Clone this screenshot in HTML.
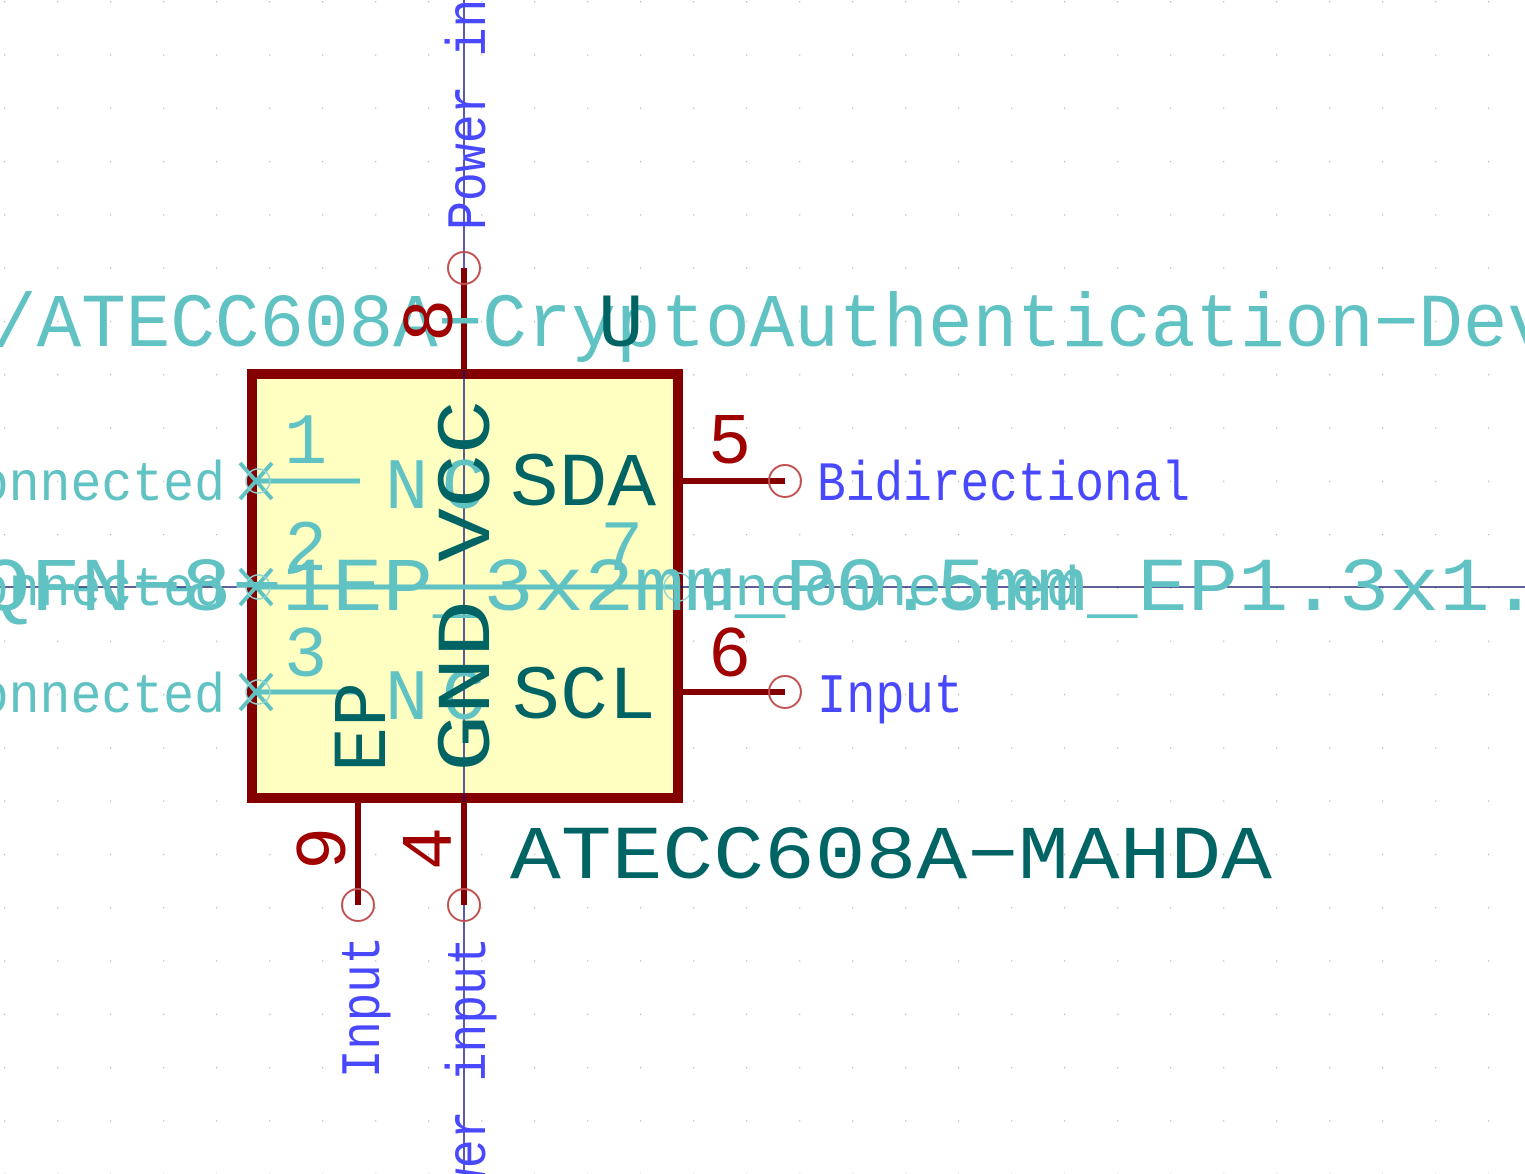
<!DOCTYPE html>
<html><head><meta charset="utf-8"><style>
html,body{margin:0;padding:0;background:#fff;width:1525px;height:1174px;overflow:hidden;}
svg{display:block;overflow:hidden;}
text{font-family:"Liberation Mono",monospace;}
</style></head><body>
<svg width="1525" height="1174" viewBox="0 0 1525 1174" overflow="hidden" xmlns="http://www.w3.org/2000/svg">
<defs>
<pattern id="g" x="-6" y="1" width="53" height="53.3" patternUnits="userSpaceOnUse">
<rect x="10" y="0" width="1.3" height="1.3" fill="#bbb"/>
</pattern>
<clipPath id="c"><rect width="1525" height="1174"/></clipPath>
</defs>
<g clip-path="url(#c)">
<rect width="1525" height="1174" fill="#fff"/>
<rect width="1525" height="1174" fill="url(#g)"/>
<rect x="252" y="374" width="426" height="424" fill="#ffffc2" stroke="#840000" stroke-width="10"/>
<line x1="464" y1="0" x2="464" y2="1174" stroke="#00008a" stroke-width="1.3"/>
<line x1="0" y1="587" x2="1525" y2="587" stroke="#00005a" stroke-width="1.3"/>
<g stroke="#840000" stroke-width="6">
<line x1="464" y1="268" x2="464" y2="370"/>
<line x1="682" y1="481" x2="785" y2="481"/>
<line x1="682" y1="692" x2="785" y2="692"/>
<line x1="358" y1="802" x2="358" y2="905"/>
<line x1="464" y1="802" x2="464" y2="905"/>
</g>
<g fill="none" stroke="#c05050" stroke-width="2">
<circle cx="464" cy="268" r="16"/>
<circle cx="785" cy="481" r="16"/>
<circle cx="785" cy="692" r="16"/>
<circle cx="358" cy="905" r="16"/>
<circle cx="464" cy="905" r="16"/>
</g>
<g stroke="#60c2c2" stroke-width="5">
<line x1="258" y1="481" x2="360" y2="481"/>
<line x1="258" y1="692" x2="360" y2="692"/>
<line x1="258" y1="587" x2="678" y2="587"/>
</g>
<g stroke="#60c2c2" stroke-width="4">
<path d="M240 463 L272 499 M272 463 L240 499"/>
<path d="M240 674 L272 710 M272 674 L240 710"/>
<path d="M240 569 L272 605 M272 569 L240 605"/>
</g>
<g fill="none" stroke="#8fd4d4" stroke-width="1.5">
<circle cx="258" cy="481" r="12"/>
<circle cx="258" cy="692" r="12"/>
<circle cx="258" cy="587" r="12"/>
<circle cx="678" cy="587" r="14"/>
</g>
<text x="-8" y="346" font-size="76" fill="#60c2c2" textLength="1560" lengthAdjust="spacingAndGlyphs">/ATECC608A−CryptoAuthentication−Dev</text>
<text x="-20" y="610" font-size="76" fill="#60c2c2" textLength="1560" lengthAdjust="spacingAndGlyphs">QFN−8−1EP_3x2mm_P0.5mm_EP1.3x1.</text>
<g fill="#a00000" font-size="72">
<text x="708" y="463" textLength="44">5</text>
<text x="708" y="676" textLength="44">6</text>
<text transform="translate(452,342) rotate(-90)" textLength="40">8</text>
<text transform="translate(345,870) rotate(-90)" textLength="40">9</text>
<text transform="translate(451,870) rotate(-90)" textLength="40">4</text>
</g>
<g fill="#60c2c2" font-size="72">
<text x="284" y="463" textLength="44">1</text>
<text x="284" y="570" textLength="44">2</text>
<text x="284" y="676" textLength="44">3</text>
<text x="600" y="570" textLength="44">7</text>
<text x="385" y="508" textLength="100">NC</text>
<text x="385" y="719" textLength="100">NC</text>
</g>
<g fill="#006464" font-size="76">
<text x="510" y="505" textLength="146" lengthAdjust="spacingAndGlyphs">SDA</text>
<text x="512" y="718" textLength="144" lengthAdjust="spacingAndGlyphs">SCL</text>
<text transform="translate(489,562) rotate(-90)" textLength="162" lengthAdjust="spacingAndGlyphs">VCC</text>
<text transform="translate(489,772) rotate(-90)" textLength="172" lengthAdjust="spacingAndGlyphs">GND</text>
<text transform="translate(385,772) rotate(-90)" textLength="90" lengthAdjust="spacingAndGlyphs">EP</text>
<text x="598" y="346" textLength="52">U</text>
<text x="510" y="878" textLength="762" lengthAdjust="spacingAndGlyphs">ATECC608A−MAHDA</text>
</g>
<g fill="#4848ff" font-size="56">
<text x="817" y="500" textLength="373" lengthAdjust="spacingAndGlyphs">Bidirectional</text>
<text x="817" y="712" textLength="146" lengthAdjust="spacingAndGlyphs">Input</text>
<text transform="translate(485,230) rotate(-90)" textLength="318" lengthAdjust="spacingAndGlyphs">Power input</text>
<text transform="translate(379,1078) rotate(-90)" textLength="142" lengthAdjust="spacingAndGlyphs">Input</text>
<text transform="translate(485,937) rotate(-90)" text-anchor="end" textLength="318" lengthAdjust="spacingAndGlyphs">Power input</text>
</g>
<g fill="#60c2c2" font-size="56">
<text x="-115" y="500" textLength="340" lengthAdjust="spacingAndGlyphs">Unconnected</text>
<text x="-115" y="712" textLength="340" lengthAdjust="spacingAndGlyphs">Unconnected</text>
<text x="-115" y="605" textLength="340" lengthAdjust="spacingAndGlyphs">Unconnected</text>
<text x="700" y="605" textLength="380" lengthAdjust="spacingAndGlyphs">Unconnected</text>
</g>
</g>
</svg>
</body></html>
